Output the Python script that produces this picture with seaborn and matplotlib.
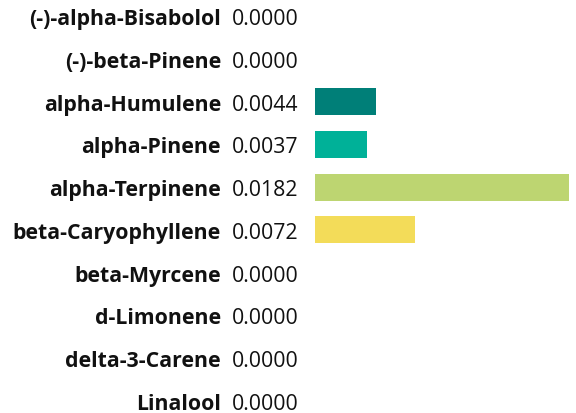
import matplotlib

matplotlib.use("Agg")
import matplotlib.pyplot as plt  # noqa: E402
import pandas as pd  # noqa: E402
import seaborn as sns  # noqa: E402

TERPENES = ["(-)-alpha-Bisabolol", "(-)-beta-Pinene", "alpha-Humulene", "alpha-Pinene",
            "alpha-Terpinene", "beta-Caryophyllene", "beta-Myrcene", "d-Limonene",
            "delta-3-Carene", "Linalool"]
VALUES = [0.0, 0.0, 0.0044, 0.0037, 0.0182, 0.0072, 0.0, 0.0, 0.0, 0.0]
COLORS = ["#cccccc", "#cccccc", "#007f78", "#00b198", "#bdd571", "#f3dc59",
          "#cccccc", "#cccccc", "#cccccc", "#cccccc"]

sns.set_style("white")
plt.rcParams["font.family"] = ["Open Sans", "DejaVu Sans"]

df = pd.DataFrame({"terpene": TERPENES, "value": VALUES})

fig = plt.figure(figsize=(5.76, 4.14), dpi=100)
# axes spans the bar area; rows spaced ~43px, running a bit past the figure edge
ax = fig.add_axes([315 / 576, -9.4 / 414, 254 / 576, 427.8 / 414])
sns.barplot(data=df, x="value", y="terpene", hue="terpene", palette=COLORS,
            orient="h", width=0.63, saturation=1, linewidth=0, legend=False, ax=ax)
ax.set_xlim(0, max(VALUES))
ax.set_ylim(len(TERPENES) - 0.5, -0.5)
ax.axis("off")

for i, (name, val) in enumerate(zip(TERPENES, VALUES)):
    ax.annotate(name, xy=(0, i), xycoords=("axes fraction", "data"),
                xytext=(-94, 0), textcoords="offset pixels",
                ha="right", va="center_baseline", fontsize=15.3, fontweight="bold",
                color="#111111")
    ax.annotate(f"{val:.4f}", xy=(0, i), xycoords=("axes fraction", "data"),
                xytext=(-83, 0), textcoords="offset pixels",
                ha="left", va="center_baseline", fontsize=15.3, color="#111111")

fig.savefig("out.png", dpi=100)
plt.close(fig)
